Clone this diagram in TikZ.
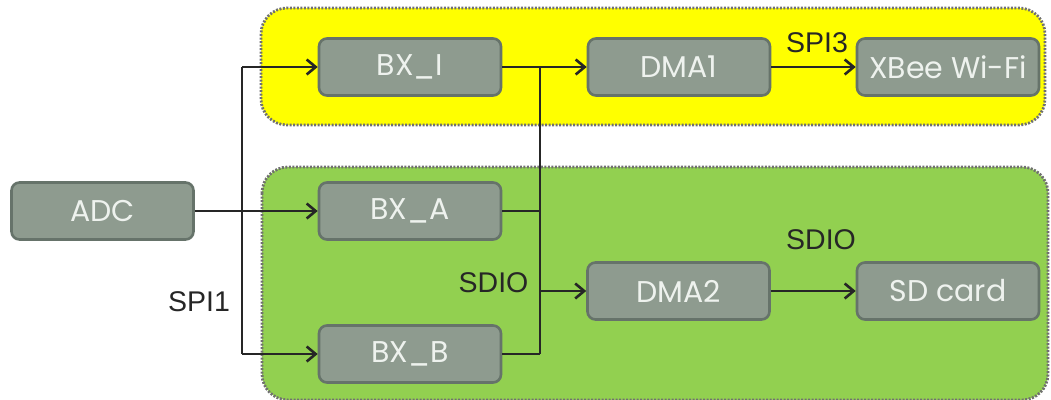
\documentclass[tikz,border=0pt]{standalone}
\usepackage{fontspec}
\setmainfont{Liberation Sans}
\newfontfamily\boxfont{Poppins}
\usetikzlibrary{arrows.meta}
\definecolor{zoneyellow}{HTML}{FFFF00}
\definecolor{zonegreen}{HTML}{92D050}
\definecolor{zoneedge}{HTML}{707070}
\definecolor{blockfill}{HTML}{8E9B8F}
\definecolor{blockedge}{HTML}{66736A}
\definecolor{blocktext}{HTML}{EEF2EE}
\definecolor{wire}{HTML}{262626}
\tikzset{
  zone/.style={draw=zoneedge, line width=2.8pt, dash pattern=on 2pt off 1.5pt, rounded corners=26pt},
  block/.style={draw=blockedge, fill=blockfill, line width=2.6pt, rounded corners=8pt,
    minimum width=182pt, minimum height=57pt, inner sep=0pt,
    text=blocktext, font=\boxfont\fontsize{30}{32}\selectfont},
  wirearrow/.style={draw=wire, line width=2.7pt, -{Straight Barb[length=9pt,width=15pt,line width=2.6pt]}},
  wireline/.style={draw=wire, line width=2.7pt},
  buslabel/.style={text=black!85, font=\fontsize{28.5}{30}\selectfont, inner sep=0pt}
}
\begin{document}
\begin{tikzpicture}[x=1pt,y=-1pt]
\useasboundingbox (0,0) rectangle (1051,399);
% shaded zones
\path[zone, fill=zoneyellow] (261,8) rectangle (1045,125);
\path[zone, fill=zonegreen] (262,167) rectangle (1048,400);

% blocks
\node[block] (adc)  at (102.5,211) {ADC};
\node[block] (bxi)  at (410,67)    {BX\_I};
\node[block] (bxa)  at (410,211)   {BX\_A};
\node[block] (bxb)  at (410,354)   {BX\_B};
\node[block] (dma1) at (679,67)    {DMA1};
\node[block] (xbee) at (948,67)    {XBee Wi-Fi};
\node[block] (dma2) at (678.5,291) {DMA2};
\node[block] (sd)   at (948,291)   {SD card};

% junction points of the two buses
\coordinate (spitop) at (242,67);
\coordinate (spibot) at (242,354);
\coordinate (sdiotop) at (540,67);
\coordinate (sdiomid) at (540,291);
\coordinate (sdiobot) at (540,354);

% SPI1 bus from the ADC
\draw[wirearrow] (adc.east) -- (bxa.west);
\draw[wireline] (spibot) -- (spitop);
\draw[wirearrow] (spitop) -- (bxi.west);
\draw[wirearrow] (spibot) -- (bxb.west);

% SDIO bus from the buffers
\draw[wireline] (sdiotop) -- (sdiobot);
\draw[wirearrow] (bxi.east) -- (dma1.west);
\draw[wireline] (bxa.east) -- (bxa.east -| sdiotop);
\draw[wireline] (bxb.east) -- (sdiobot);
\draw[wirearrow] (sdiomid) -- (dma2.west);

% outputs
\draw[wirearrow] (dma1.east) -- (xbee.west);
\draw[wirearrow] (dma2.east) -- (sd.west);

% bus labels
\node[buslabel] (lspi1) at (199,301.5) {SPI1};
\node[buslabel] (lsdio1) at (493.5,283) {SDIO};
\node[buslabel] (lspi3) at (817,43) {SPI3};
\node[buslabel] (lsdio2) at (821,240) {SDIO};
\end{tikzpicture}
\end{document}
